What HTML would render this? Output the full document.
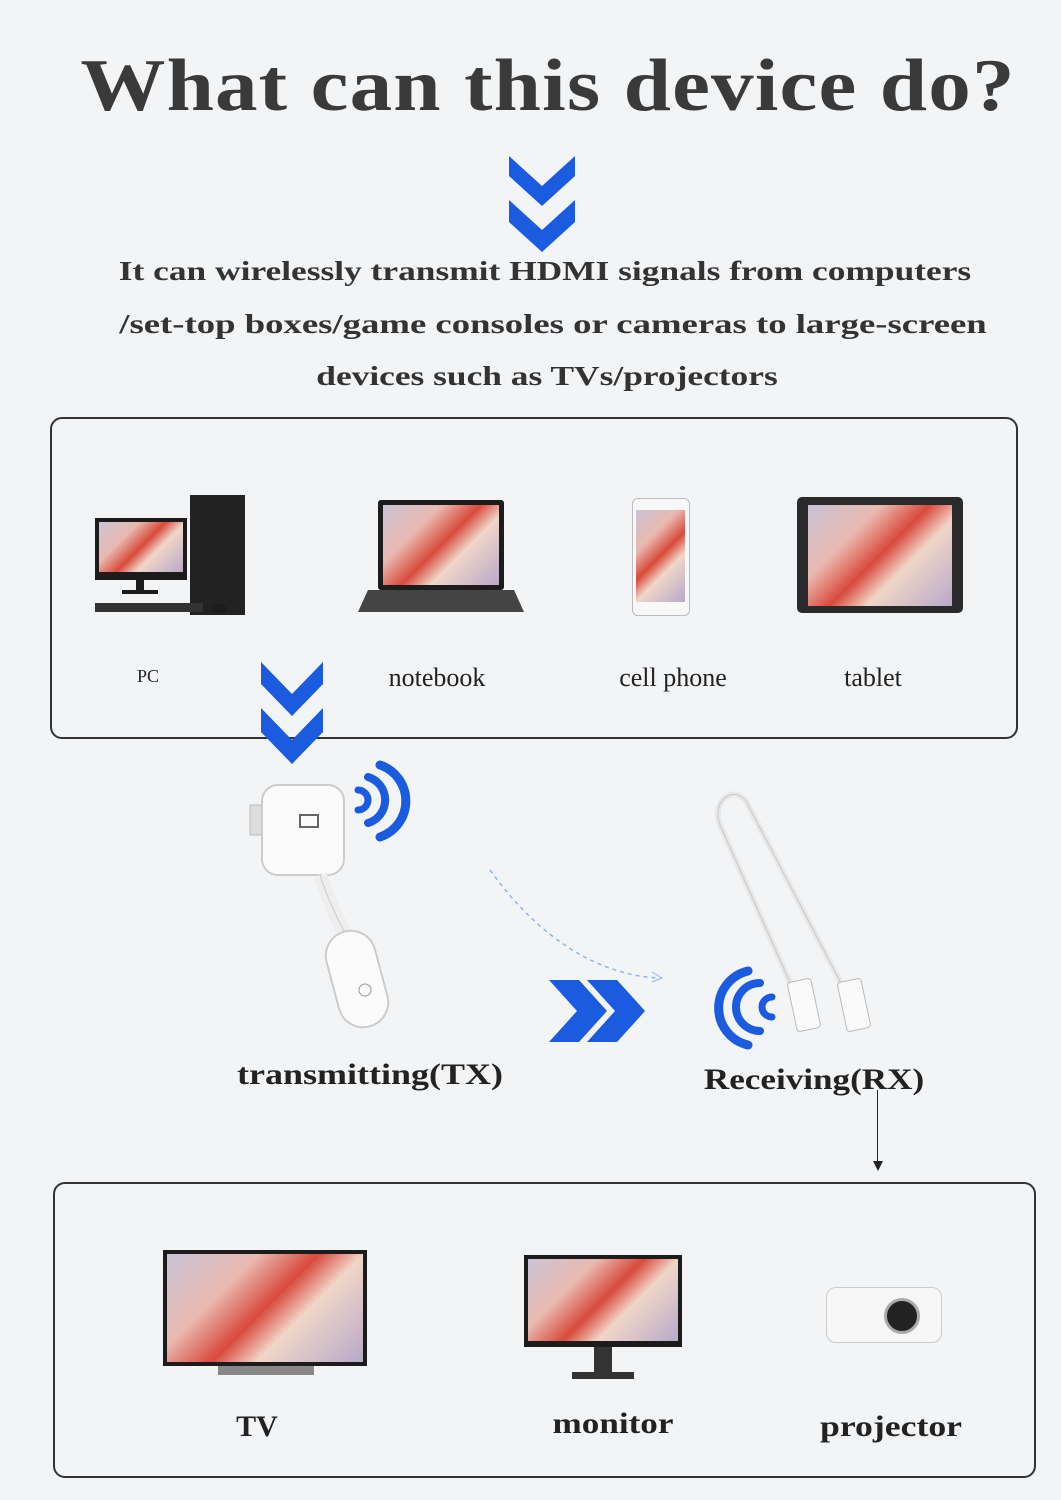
<!DOCTYPE html>
<html><head><meta charset="utf-8">
<style>
html,body{margin:0;padding:0}
body{width:1061px;height:1500px;position:relative;overflow:hidden;background:#f3f4f6;font-family:"Liberation Serif",serif;color:#333}
.abs{position:absolute}
.t{position:absolute;white-space:nowrap;transform:translateX(-50%)}
.box{position:absolute;border:2px solid #333;border-radius:12px}
.scr{position:absolute;background:linear-gradient(135deg,#c9c3d6 0%,#e9b9b0 30%,#d94a3c 50%,#f0d6c8 65%,#b7a9c9 100%);}
.blk{position:absolute;background:#1c1c1c}
</style></head><body>
<div class="t" style="left:548px;top:44px;font-size:74px;font-weight:bold;color:#3a3a3a;letter-spacing:1px;transform:translateX(-50%) scaleX(1.15)">What can this device do?</div>

<svg class="abs" style="left:505px;top:152px" width="74" height="106" viewBox="0 0 74 106">
<polygon points="4,4 37,34 70,4 70,24 37,54 4,24" fill="#1a5be0"/>
<polygon points="4,48 37,78 70,48 70,70 37,100 4,70" fill="#1a5be0"/>
</svg>

<div class="t" style="left:545px;top:256px;font-size:27px;font-weight:bold;color:#333;transform:translateX(-50%) scaleX(1.31)">It can wirelessly transmit HDMI signals from computers</div>
<div class="t" style="left:553px;top:309px;font-size:27px;font-weight:bold;color:#333;transform:translateX(-50%) scaleX(1.36)">/set-top boxes/game consoles or cameras to large-screen</div>
<div class="t" style="left:547px;top:361px;font-size:27px;font-weight:bold;color:#333;transform:translateX(-50%) scaleX(1.31)">devices such as TVs/projectors</div>

<div class="box" style="left:50px;top:417px;width:964px;height:318px"></div>

<div class="blk" style="left:95px;top:518px;width:92px;height:62px"></div>
<div class="scr" style="left:99px;top:522px;width:84px;height:50px"></div>
<div class="blk" style="left:136px;top:580px;width:8px;height:12px"></div>
<div class="blk" style="left:122px;top:590px;width:36px;height:4px"></div>
<div class="blk" style="left:190px;top:495px;width:55px;height:120px;background:#222"></div>
<div class="blk" style="left:95px;top:603px;width:108px;height:9px;background:#333"></div>
<div class="blk" style="left:212px;top:604px;width:14px;height:9px;border-radius:5px"></div>
<div class="blk" style="left:378px;top:500px;width:126px;height:90px;border-radius:3px"></div>
<div class="scr" style="left:383px;top:505px;width:116px;height:80px"></div>
<div class="blk" style="left:358px;top:590px;width:166px;height:22px;background:#444;clip-path:polygon(6% 0,94% 0,100% 100%,0 100%)"></div>
<div class="abs" style="left:632px;top:498px;width:56px;height:116px;background:#f8f8f8;border:1px solid #bbb;border-radius:6px"></div>
<div class="scr" style="left:636px;top:510px;width:49px;height:92px"></div>
<div class="blk" style="left:797px;top:497px;width:166px;height:116px;border-radius:5px;background:#2a2a2a"></div>
<div class="scr" style="left:808px;top:505px;width:144px;height:101px"></div>

<div class="t" style="left:148px;top:666px;font-size:18px;color:#222">PC</div>
<div class="t" style="left:437px;top:663px;font-size:26px;color:#222">notebook</div>
<div class="t" style="left:673px;top:663px;font-size:26px;color:#222">cell phone</div>
<div class="t" style="left:873px;top:663px;font-size:26px;color:#222">tablet</div>

<svg class="abs" style="left:258px;top:658px" width="68" height="110" viewBox="0 0 68 110">
<polygon points="3,4 34,36 65,4 65,26 34,58 3,26" fill="#1a5be0"/>
<polygon points="3,50 34,82 65,50 65,74 34,106 3,74" fill="#1a5be0"/>
</svg>

<svg class="abs" style="left:240px;top:755px" width="180" height="290" viewBox="0 0 180 290">
<rect x="10" y="50" width="22" height="30" fill="#ddd" stroke="#bbb"/>
<rect x="22" y="30" width="82" height="90" rx="16" fill="#fbfbfb" stroke="#ccc" stroke-width="2"/>
<rect x="60" y="60" width="18" height="12" fill="none" stroke="#666" stroke-width="2"/>
<path d="M80 120 C90 150 100 170 112 190" stroke="#eee" stroke-width="14" fill="none"/>
<path d="M80 120 C90 150 100 170 112 190" stroke="#ccc" stroke-width="1" fill="none"/>
<rect x="92" y="175" width="50" height="98" rx="25" fill="#fbfbfb" stroke="#ccc" stroke-width="2" transform="rotate(-15 117 224)"/>
<circle cx="125" cy="235" r="6" fill="none" stroke="#999"/>
<g fill="none" stroke="#1a5be0" stroke-linecap="round">
<path d="M118 35 a10 10 0 0 1 0 20" stroke-width="7"/>
<path d="M128 22 a24 24 0 0 1 0 46" stroke-width="8"/>
<path d="M140 10 a38 38 0 0 1 0 72" stroke-width="9"/>
</g>
</svg>

<svg class="abs" style="left:480px;top:860px" width="200" height="130" viewBox="0 0 200 130">
<path d="M10 10 C60 80 120 115 178 118" stroke="#8fb3e8" stroke-width="1.5" stroke-dasharray="4 4" fill="none"/>
<path d="M172 112 L182 118 L172 122" stroke="#8fb3e8" fill="none"/>
</svg>

<svg class="abs" style="left:545px;top:978px" width="104" height="66" viewBox="0 0 104 66">
<polygon points="4,2 34,2 62,33 34,64 4,64 32,33" fill="#1a5be0"/>
<polygon points="42,2 72,2 100,33 72,64 42,64 70,33" fill="#1a5be0"/>
</svg>

<svg class="abs" style="left:700px;top:785px" width="190" height="270" viewBox="0 0 190 270">
<path d="M100 220 L20 40 C10 10 40 0 48 20 L155 225" stroke="#e8e8e8" stroke-width="6" fill="none"/>
<path d="M100 220 L20 40 C10 10 40 0 48 20 L155 225" stroke="#c8c8c8" stroke-width="1" fill="none"/>
<rect x="92" y="195" width="24" height="50" rx="3" fill="#fafafa" stroke="#bbb" transform="rotate(-12 104 220)"/>
<rect x="142" y="195" width="24" height="50" rx="3" fill="#fafafa" stroke="#bbb" transform="rotate(-12 154 220)"/>
<g fill="none" stroke="#1a5be0" stroke-linecap="round">
<path d="M72 212 a10 10 0 0 0 0 20" stroke-width="7"/>
<path d="M60 198 a24 24 0 0 0 0 48" stroke-width="8"/>
<path d="M48 186 a38 38 0 0 0 0 74" stroke-width="9"/>
</g>
</svg>

<div class="t" style="left:370px;top:1058px;font-size:30px;font-weight:bold;color:#222;transform:translateX(-50%) scaleX(1.2)">transmitting(TX)</div>
<div class="t" style="left:814px;top:1063px;font-size:30px;font-weight:bold;color:#222;transform:translateX(-50%) scaleX(1.17)">Receiving(RX)</div>

<div class="abs" style="left:877px;top:1090px;width:1px;height:76px;background:#222"></div>
<svg class="abs" style="left:872px;top:1160px" width="12" height="12"><polygon points="1,1 11,1 6,11" fill="#222"/></svg>

<div class="box" style="left:53px;top:1182px;width:979px;height:292px"></div>

<div class="blk" style="left:163px;top:1250px;width:204px;height:116px"></div>
<div class="scr" style="left:167px;top:1254px;width:196px;height:108px"></div>
<div class="abs" style="left:218px;top:1366px;width:96px;height:9px;background:#888"></div>
<div class="blk" style="left:524px;top:1255px;width:158px;height:92px"></div>
<div class="scr" style="left:528px;top:1259px;width:150px;height:82px"></div>
<div class="blk" style="left:594px;top:1347px;width:18px;height:26px;background:#333"></div>
<div class="blk" style="left:572px;top:1372px;width:62px;height:7px;background:#333"></div>
<div class="abs" style="left:826px;top:1287px;width:114px;height:54px;background:#f6f6f6;border:1px solid #ccc;border-radius:10px"></div>
<div class="abs" style="left:884px;top:1298px;width:36px;height:36px;border-radius:50%;background:#222;border:3px solid #aaa;box-sizing:border-box"></div>

<div class="t" style="left:257px;top:1410px;font-size:30px;font-weight:bold;color:#222">TV</div>
<div class="t" style="left:613px;top:1407px;font-size:30px;font-weight:bold;color:#222;transform:translateX(-50%) scaleX(1.17)">monitor</div>
<div class="t" style="left:891px;top:1410px;font-size:30px;font-weight:bold;color:#222;transform:translateX(-50%) scaleX(1.19)">projector</div>
</body></html>
